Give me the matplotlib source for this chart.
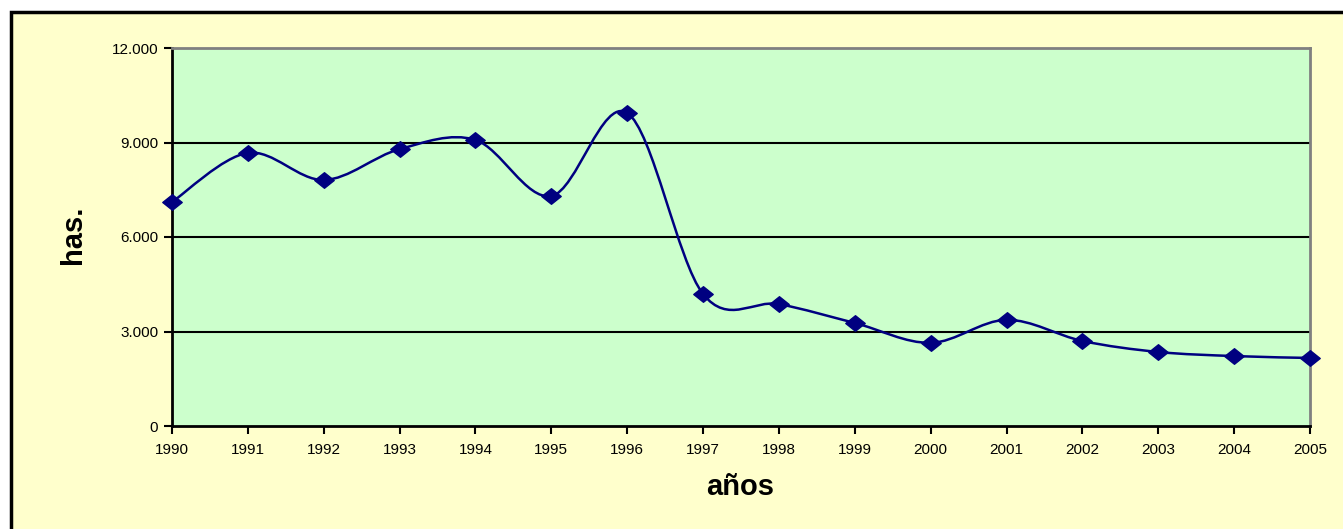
import matplotlib
matplotlib.use("Agg")
import matplotlib.pyplot as plt
from matplotlib.path import Path
from matplotlib.patches import PathPatch, Rectangle
import numpy as np

plt.rcParams['font.family'] = ['Liberation Sans', 'DejaVu Sans']

years = [1990, 1991, 1992, 1993, 1994, 1995, 1996, 1997,
         1998, 1999, 2000, 2001, 2002, 2003, 2004, 2005]
hectares = [7110, 8670, 7810, 8790, 9080, 7300, 9940, 4190,
            3870, 3270, 2640, 3370, 2700, 2350, 2220, 2160]
year_labels = [str(y) for y in years]
y_ticks = [0, 3000, 6000, 9000, 12000]
y_tick_labels = ["0", "3.000", "6.000", "9.000", "12.000"]

W, H = 1343, 529
fig = plt.figure(figsize=(W / 100, H / 100), dpi=100, facecolor="white")
# outer chart frame
frame = Rectangle((11 / W, -0.01), 1.1, (H - 12) / H + 0.01,
                  transform=fig.transFigure, facecolor="#FFFFCC",
                  edgecolor="black", linewidth=2.5, zorder=-10)
fig.patches.append(frame)

ax = fig.add_axes([172 / W, 1 - 426 / H, (1310 - 172) / W, (426 - 48) / H])
ax.set_zorder(5)
ax.set_facecolor("#CCFFCC")
ax.set_xlim(1990, 2005)
ax.set_ylim(0, 12000)

for v in [3000, 6000, 9000]:
    ax.axhline(v, color="black", linewidth=1.5, zorder=1)

# smoothed line (Excel-style Bezier through the data points)
pts = np.column_stack([years, hectares]).astype(float)
verts = [tuple(pts[0])]
codes = [Path.MOVETO]
n = len(pts)
for i in range(n - 1):
    p0 = pts[i - 1] if i > 0 else pts[i]
    p1 = pts[i]
    p2 = pts[i + 1]
    p3 = pts[i + 2] if i + 2 < n else pts[i + 1]
    c1 = p1 + (p2 - p0) / 6.0
    c2 = p2 - (p3 - p1) / 6.0
    verts += [tuple(c1), tuple(c2), tuple(p2)]
    codes += [Path.CURVE4] * 3
ax.add_patch(PathPatch(Path(verts, codes), facecolor="none", edgecolor="#000080",
                       linewidth=1.8, zorder=3, transform=ax.transData))

diamond = Path([(-1, 0), (0, 0.8), (1, 0), (0, -0.8), (-1, 0)],
               [Path.MOVETO, Path.LINETO, Path.LINETO, Path.LINETO, Path.CLOSEPOLY])
ax.plot(years, hectares, linestyle="none", marker=diamond, markersize=14,
        color="#000080", zorder=4, clip_on=False)

for s in ["left", "bottom"]:
    ax.spines[s].set_color("black")
    ax.spines[s].set_linewidth(2)
for s in ["top", "right"]:
    ax.spines[s].set_color("#808080")
    ax.spines[s].set_linewidth(2)

ax.set_xticks(years)
ax.set_xticklabels(year_labels, fontsize=11)
ax.set_yticks(y_ticks)
ax.set_yticklabels(y_tick_labels, fontsize=11)
ax.tick_params(axis="both", direction="out", length=6, width=1.5, color="black")
ax.tick_params(axis="x", pad=6)
ax.tick_params(axis="y", pad=4)

fig.text(740 / W, 1 - 487 / H, "años", fontsize=21, fontweight="bold",
         ha="center", va="center")
fig.text(73 / W, 1 - 235 / H, "has.", fontsize=21, fontweight="bold",
         ha="center", va="center", rotation=90)

fig.savefig("out.png", dpi=100, facecolor="white")
